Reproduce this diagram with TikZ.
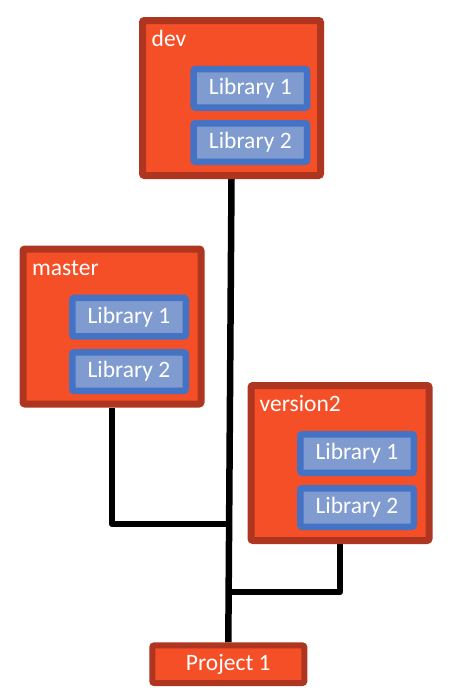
\documentclass[tikz,border=0pt]{standalone}
\usepackage{fontspec}
\setmainfont{Carlito}
\usetikzlibrary{backgrounds}
\definecolor{brfill}{HTML}{F44F27}
\definecolor{brdraw}{HTML}{AE3520}
\definecolor{libfill}{HTML}{7F9BCF}
\definecolor{libdraw}{HTML}{4472C4}
\tikzset{
  branch/.style={draw=brdraw, fill=brfill, line width=7pt, rounded corners=2pt,
    minimum width=178pt, minimum height=155pt, inner sep=0pt},
  lib/.style={draw=libdraw, fill=libfill, line width=6.5pt, rounded corners=2pt,
    minimum width=113.5pt, minimum height=38.5pt, inner sep=0pt, text=white,
    font=\fontsize{23.5}{28}\selectfont},
  proj/.style={draw=brdraw, fill=brfill, line width=6pt, rounded corners=2pt,
    minimum width=152pt, minimum height=37.7pt, inner sep=0pt, text=white,
    font=\fontsize{23.5}{28}\selectfont},
  blabel/.style={anchor=base west, inner sep=0pt, text=white,
    font=\fontsize{23.5}{28}\selectfont},
  conn/.style={line width=6.5pt, black, line join=round},
}
\begin{document}
\begin{tikzpicture}[x=1pt, y=-1pt]
\useasboundingbox (0,0) rectangle (452,696);
% branches
\node[branch] (dev) at (231.5,98) {};
\node[branch] (master) at (112,326.5) {};
\node[branch] (version2) at (340,463) {};
% labels
\node[blabel] (devlabel) at (151.5,46) {dev};
\node[blabel] (masterlabel) at (32,275.5) {master};
\node[blabel] (v2label) at (259.5,411.5) {version2};
% libraries
\node[lib] (devlibA) at (250.3,88.3) {Library 1};
\node[lib] (devlibB) at (250.3,142.5) {Library 2};
\node[lib] (masterlibA) at (129,317.2) {Library 1};
\node[lib] (masterlibB) at (129,371.6) {Library 2};
\node[lib] (v2libA) at (357,453.5) {Library 1};
\node[lib] (v2libB) at (357,507.5) {Library 2};
% project
\node[proj] (project) at (228.3,664.2) {Project 1};
% connectors
\coordinate (jm) at (229.1,524);
\coordinate (jv) at (228.7,592);
\begin{scope}[on background layer]
\draw[conn] (dev.south) -- (project.north);
\draw[conn] (master.south) |- (jm);
\draw[conn] (version2.south) |- (jv);
\end{scope}
\end{tikzpicture}
\end{document}
